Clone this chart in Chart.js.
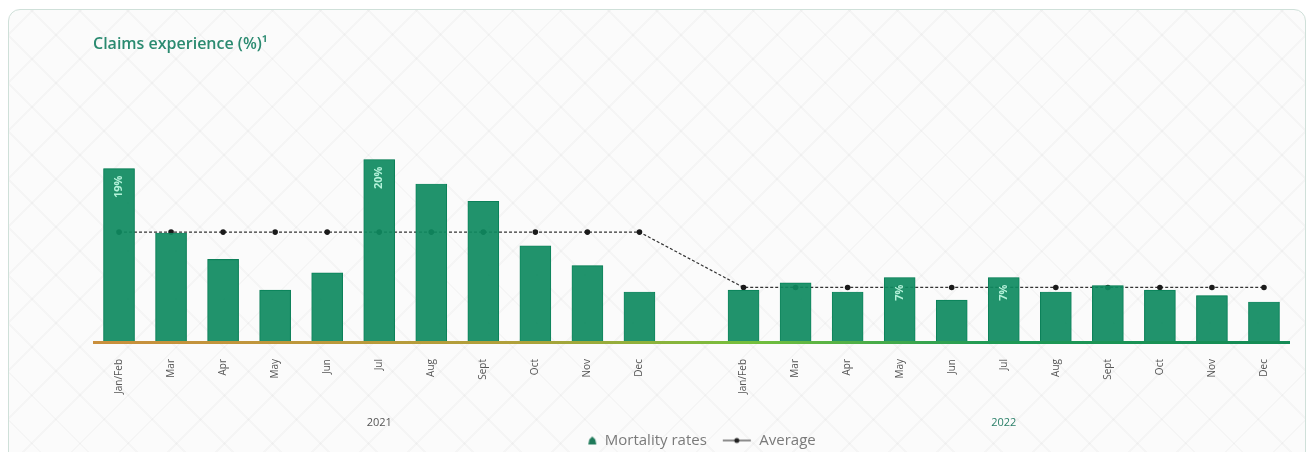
<!DOCTYPE html>
<html>
<head>
<meta charset="utf-8">
<script src="https://cdn.jsdelivr.net/npm/chart.js@4.4.0/dist/chart.umd.min.js"></script>
<style>
  html, body { margin: 0; padding: 0; background: #ffffff; }
  #wrap { position: relative; width: 1312px; height: 452px; overflow: hidden; }
  #card {
    position: absolute; left: 8px; top: 9px; width: 1296px; height: 460px;
    border: 1px solid #cfe0d9; border-radius: 12px;
    background-color: #fbfbfb;
    background-image:
      repeating-linear-gradient(45deg, rgba(0,0,0,0.022) 0 2px, transparent 2px 34px),
      repeating-linear-gradient(-45deg, rgba(0,0,0,0.022) 0 2px, transparent 2px 34px);
  }
  #myChart { position: absolute; left: 0; top: 0; }
</style>
</head>
<body>
<div id="wrap">
  <div id="card"></div>
  <canvas id="myChart" width="1312" height="452"></canvas>
</div>
<script>
// Monthly categories, with one empty slot separating the two years
var months2021 = ['Jan/Feb', 'Mar', 'Apr', 'May', 'Jun', 'Jul', 'Aug', 'Sept', 'Oct', 'Nov', 'Dec'];
var months2022 = ['Jan/Feb', 'Mar', 'Apr', 'May', 'Jun', 'Jul', 'Aug', 'Sept', 'Oct', 'Nov', 'Dec'];
var years = ['2021', '2022'];

// Mortality rates (%)
var mortality2021 = [19, 11.9, 9.0, 5.6, 7.5, 20, 17.3, 15.4, 10.5, 8.3, 5.4];
var mortality2022 = [5.6, 6.4, 5.4, 7, 4.5, 7, 5.4, 6.1, 5.6, 5.0, 4.3];

// Yearly average (%)
var average2021 = [12, 12, 12, 12, 12, 12, 12, 12, 12, 12, 12];
var average2022 = [5.9, 5.9, 5.9, 5.9, 5.9, 5.9, 5.9, 5.9, 5.9, 5.9, 5.9];

// Value labels written inside some bars
var barLabels2021 = ['19%', '', '', '', '', '20%', '', '', '', '', ''];
var barLabels2022 = ['', '', '', '7%', '', '7%', '', '', '', '', ''];

var labels = months2021.concat(['']).concat(months2022);
var mortality = mortality2021.concat([null]).concat(mortality2022);
var average = average2021.concat([null]).concat(average2022);
var barLabels = barLabels2021.concat(['']).concat(barLabels2022);

// little "line with dot" icon for the average legend entry
var avgIcon = document.createElement('canvas');
avgIcon.width = 30; avgIcon.height = 10;
(function () {
    var c = avgIcon.getContext('2d');
    c.strokeStyle = '#444';
    c.lineWidth = 1.2;
    c.beginPath(); c.moveTo(1, 5); c.lineTo(29, 5); c.stroke();
    c.fillStyle = '#222';
    c.beginPath(); c.arc(15, 5, 2.5, 0, Math.PI * 2); c.fill();
})();

// small bar icon for the mortality legend entry, pushed to the right of its slot
var barIcon = document.createElement('canvas');
barIcon.width = 30; barIcon.height = 10;
(function () {
    var c = barIcon.getContext('2d');
    c.fillStyle = '#1f7a5a';
    c.beginPath();
    c.moveTo(25, 1); c.lineTo(28, 4); c.lineTo(29, 9); c.lineTo(21, 9); c.lineTo(22, 4);
    c.closePath(); c.fill();
})();

// coloured base line, value text inside bars and the year captions
var decorPlugin = {
    id: 'decor',
    afterDatasetsDraw: function (chart) {
        var ctx = chart.ctx;
        var area = chart.chartArea;
        var x = chart.scales.x;

        // base line
        var grad = ctx.createLinearGradient(area.left, 0, area.right, 0);
        grad.addColorStop(0, '#c98f3c');
        grad.addColorStop(0.35, '#b0a03a');
        grad.addColorStop(0.55, '#74bf3c');
        grad.addColorStop(0.75, '#1f9a55');
        grad.addColorStop(1, '#138a55');
        ctx.save();
        ctx.strokeStyle = grad;
        ctx.lineWidth = 3;
        ctx.beginPath();
        ctx.moveTo(area.left, area.bottom + 1.5);
        ctx.lineTo(area.right, area.bottom + 1.5);
        ctx.stroke();
        ctx.restore();

        // text inside bars
        var meta = chart.getDatasetMeta(0);
        ctx.save();
        ctx.fillStyle = '#b4f2da';
        ctx.font = 'bold 11px "Open Sans"';
        ctx.textBaseline = 'middle';
        ctx.textAlign = 'right';
        meta.data.forEach(function (bar, i) {
            if (!barLabels[i]) return;
            ctx.save();
            ctx.translate(bar.x, bar.y + 7);
            ctx.rotate(-Math.PI / 2);
            ctx.fillText(barLabels[i], 0, 0);
            ctx.restore();
        });
        ctx.restore();

        // year captions under each group of months
        var mid2021 = x.getPixelForValue(Math.floor(months2021.length / 2));
        var mid2022 = x.getPixelForValue(months2021.length + 1 + Math.floor(months2022.length / 2));
        ctx.save();
        ctx.font = '11px "Open Sans"';
        ctx.textAlign = 'center';
        ctx.textBaseline = 'middle';
        ctx.fillStyle = '#555';
        ctx.fillText(years[0], mid2021, 423);
        ctx.fillStyle = '#2a7f68';
        ctx.fillText(years[1], mid2022, 423);
        ctx.restore();
    }
};

var ctx = document.getElementById('myChart').getContext('2d');
var chart = new Chart(ctx, {
    type: 'bar',
    data: {
        labels: labels,
        datasets: [{
            label: 'Mortality rates',
            data: mortality,
            backgroundColor: 'rgba(14, 138, 96, 0.92)',
            borderColor: '#0c7a55',
            borderWidth: 0.5,
            barThickness: 31,
            order: 1
        }, {
            type: 'line',
            label: 'Average',
            data: average,
            borderColor: '#333',
            borderWidth: 1.2,
            borderDash: [3, 2],
            pointRadius: 2.8,
            pointBackgroundColor: '#1a1a1a',
            pointBorderWidth: 0,
            spanGaps: true,
            tension: 0,
            order: 2
        }]
    },
    options: {
        responsive: false,
        animation: false,
        layout: { padding: { left: 93, right: 22, top: 30, bottom: -6 } },
        plugins: {
            title: {
                display: true,
                text: 'Claims experience (%)¹',
                align: 'start',
                color: '#2a8a70',
                font: { family: '"Open Sans"', size: 16, weight: '600' },
                padding: { top: 5, bottom: 69 }
            },
            legend: {
                position: 'bottom',
                labels: {
                    usePointStyle: true,
                    pointStyleWidth: 30,
                    color: '#7a7a7a',
                    font: { family: '"Open Sans"', size: 15 },
                    padding: 15,
                    generateLabels: function (chart) {
                        var items = Chart.defaults.plugins.legend.labels.generateLabels(chart);
                        items[0].pointStyle = barIcon;
                        items[1].pointStyle = avgIcon;
                        return items;
                    }
                }
            },
            tooltip: { enabled: false }
        },
        scales: {
            x: {
                grid: { display: false },
                border: { display: false },
                ticks: {
                    autoSkip: false,
                    minRotation: 90,
                    maxRotation: 90,
                    color: '#555',
                    padding: 10,
                    font: { family: '"Open Sans"', size: 10 }
                },
                afterFit: function (scale) { scale.height = 77; }
            },
            y: {
                display: false,
                min: 0,
                max: 24
            }
        }
    },
    plugins: [decorPlugin]
});
</script>
</body>
</html>
